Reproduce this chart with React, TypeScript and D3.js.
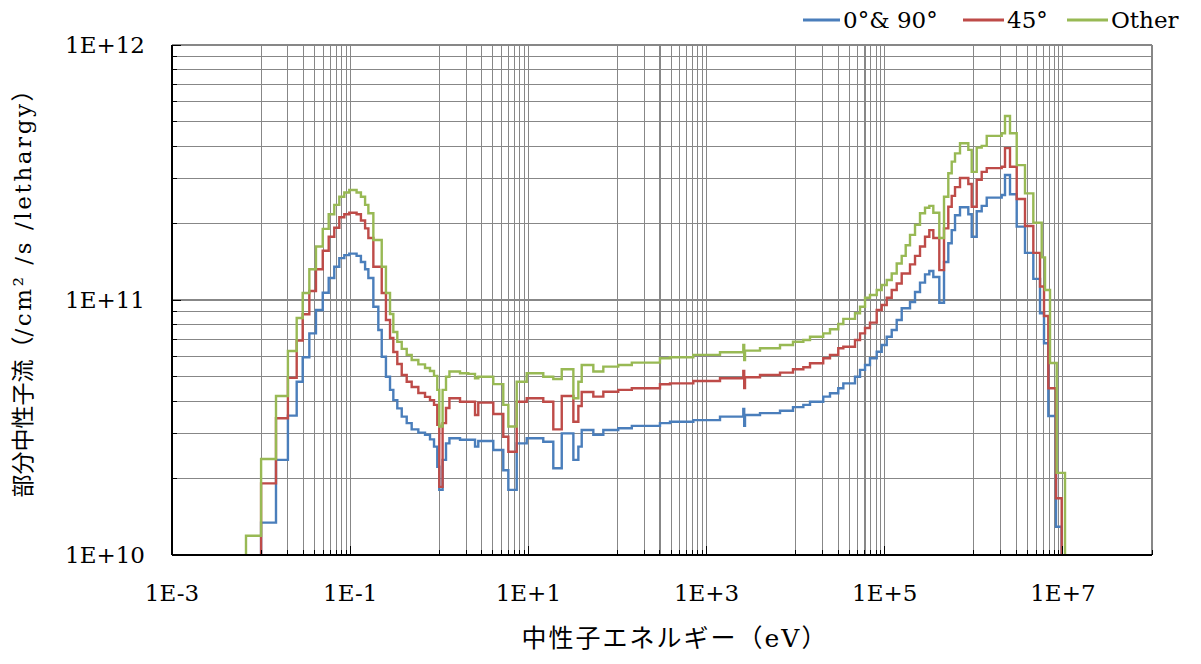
import React from "react";
import * as d3 from "d3";

// Group boundaries (eV), shared by all three spectra
const energyEdges = [
  6.77e-3, 1.0e-2, 1.47e-2, 2.0e-2, 2.51e-2, 2.93e-2, 3.48e-2, 4.13e-2, 4.92e-2, 5.74e-2,
  6.63e-2, 7.55e-2, 8.59e-2, 9.77e-2, 0.118, 0.132, 0.147, 0.16, 0.182, 0.207,
  0.226, 0.252, 0.28, 0.305, 0.338, 0.379, 0.431, 0.49, 0.582, 0.692,
  0.787, 0.873, 0.95, 1.0, 1.09, 1.19, 1.3, 1.71, 2.12, 2.52,
  2.74, 4.04, 5.23, 5.96, 7.4, 9.58, 14.7, 19.05, 23.7, 32.0,
  36.4, 39.7, 53.6, 69.4, 102, 145, 300, 389, 710, 1416,
  2375, 2586, 2647, 2702, 3982, 6677, 9343, 1.22e4, 1.45e4, 2.04e4,
  2.43e4, 3.01e4, 3.43e4, 4.64e4, 5.28e4, 6.01e4, 6.83e4, 8.13e4, 9.25e4, 1.053e5,
  1.198e5, 1.363e5, 1.551e5, 1.72e5, 1.922e5, 2.188e5, 2.489e5, 2.833e5, 3.166e5, 3.511e5,
  4.099e5, 4.629e5, 5.172e5, 5.648e5, 6.152e5, 6.998e5, 8.674e5, 9.469e5, 1.078e6, 1.226e6,
  1.396e6, 2.056e6, 2.239e6, 2.548e6, 3.03e6, 3.754e6, 4.655e6, 5.534e6, 5.781e6, 6.137e6,
  6.298e6, 6.858e6, 7.166e6, 8.367e6, 8.52e6, 9.69e6, 1.056e7,
];

// Flux per unit lethargy (/cm²/s) in each group
const flux0and90 = [
  5e9, 1.34e10, 2.36e10, 3.52e10, 4.78e10, 5.96e10, 7.4e10, 9.14e10, 1.068e11, 1.22e11,
  1.35e11, 1.46e11, 1.5e11, 1.52e11, 1.49e11, 1.41e11, 1.32e11, 1.22e11, 9.41e10, 7.63e10,
  5.99e10, 5.0e10, 4.44e10, 4.05e10, 3.76e10, 3.49e10, 3.29e10, 3.11e10, 3.02e10, 2.96e10,
  2.84e10, 2.66e10, 2.22e10, 1.8e10, 2.36e10, 2.74e10, 2.87e10, 2.83e10, 2.83e10, 2.66e10,
  2.8e10, 2.58e10, 2.15e10, 1.8e10, 2.74e10, 2.87e10, 2.78e10, 2.19e10, 3.0e10, 2.36e10,
  2.66e10, 3.09e10, 2.96e10, 3.09e10, 3.14e10, 3.21e10, 3.29e10, 3.33e10, 3.38e10, 3.49e10,
  3.49e10, 3.74e10, 3.21e10, 3.54e10, 3.6e10, 3.68e10, 3.8e10, 3.88e10, 3.99e10, 4.18e10,
  4.31e10, 4.51e10, 4.71e10, 5.0e10, 5.32e10, 5.56e10, 5.91e10, 6.27e10, 6.66e10, 7.18e10,
  7.63e10, 8.35e10, 9.28e10, 9.28e10, 9.82e10, 1.075e11, 1.17e11, 1.26e11, 1.3e11, 1.23e11,
  9.76e10, 1.41e11, 1.67e11, 1.88e11, 2.15e11, 2.31e11, 2.17e11, 1.77e11, 2.23e11, 2.34e11,
  2.52e11, 2.58e11, 3.09e11, 2.6e11, 1.94e11, 1.53e11, 1.21e11, 8.87e10, 8.87e10, 6.77e10,
  6.77e10, 3.51e10, 3.51e10, 1.29e10, 1.29e10, 5e9,
];

const flux45 = [
  5e9, 1.91e10, 3.44e10, 4.95e10, 6.93e10, 8.79e10, 1.084e11, 1.32e11, 1.56e11, 1.77e11,
  1.92e11, 2.11e11, 2.17e11, 2.2e11, 2.17e11, 2.05e11, 1.91e11, 1.75e11, 1.35e11, 1.35e11,
  1.065e11, 8.35e10, 7.1e10, 6.25e10, 5.61e10, 5.08e10, 4.78e10, 4.56e10, 4.32e10, 4.17e10,
  4.05e10, 3.88e10, 3.24e10, 1.85e10, 3.29e10, 3.77e10, 4.12e10, 3.99e10, 3.99e10, 3.54e10,
  3.96e10, 3.57e10, 2.91e10, 2.54e10, 3.99e10, 4.12e10, 3.99e10, 3.11e10, 4.2e10, 3.33e10,
  3.84e10, 4.36e10, 4.18e10, 4.37e10, 4.44e10, 4.51e10, 4.67e10, 4.71e10, 4.81e10, 4.93e10,
  4.93e10, 5.27e10, 4.52e10, 4.98e10, 5.08e10, 5.19e10, 5.35e10, 5.45e10, 5.65e10, 5.91e10,
  6.09e10, 6.47e10, 6.56e10, 6.97e10, 7.4e10, 7.77e10, 8.15e10, 9.14e10, 9.56e10, 1.02e11,
  1.094e11, 1.16e11, 1.27e11, 1.27e11, 1.38e11, 1.49e11, 1.62e11, 1.77e11, 1.88e11, 1.75e11,
  1.31e11, 1.91e11, 2.32e11, 2.56e11, 2.77e11, 3.01e11, 2.85e11, 2.32e11, 2.96e11, 3.18e11,
  3.29e11, 3.33e11, 3.94e11, 3.33e11, 2.49e11, 1.95e11, 1.53e11, 1.13e11, 1.13e11, 8.66e10,
  8.66e10, 4.51e10, 4.51e10, 1.67e10, 1.67e10, 5e9,
];

const fluxOther = [
  1.19e10, 2.38e10, 4.2e10, 6.31e10, 8.5e10, 1.065e11, 1.32e11, 1.62e11, 1.9e11, 2.17e11,
  2.36e11, 2.54e11, 2.64e11, 2.7e11, 2.64e11, 2.54e11, 2.36e11, 2.19e11, 1.72e11, 1.72e11,
  1.35e11, 1.065e11, 8.81e10, 7.49e10, 6.85e10, 6.43e10, 6.09e10, 5.82e10, 5.59e10, 5.41e10,
  5.27e10, 5.04e10, 4.44e10, 3.19e10, 4.44e10, 5.0e10, 5.24e10, 5.16e10, 5.13e10, 4.93e10,
  5.0e10, 4.68e10, 3.88e10, 3.19e10, 4.78e10, 5.16e10, 5.0e10, 4.9e10, 5.35e10, 4.12e10,
  4.78e10, 5.56e10, 5.24e10, 5.48e10, 5.56e10, 5.68e10, 5.91e10, 5.96e10, 6.09e10, 6.24e10,
  6.24e10, 6.66e10, 5.82e10, 6.33e10, 6.47e10, 6.66e10, 6.86e10, 6.97e10, 7.18e10, 7.4e10,
  7.68e10, 8.05e10, 8.43e10, 8.87e10, 9.41e10, 1.02e11, 1.046e11, 1.094e11, 1.145e11, 1.198e11,
  1.27e11, 1.39e11, 1.49e11, 1.64e11, 1.8e11, 1.97e11, 2.19e11, 2.3e11, 2.34e11, 2.2e11,
  1.75e11, 2.54e11, 3.14e11, 3.49e11, 3.76e11, 4.12e11, 3.88e11, 3.18e11, 3.96e11, 4.02e11,
  4.4e11, 4.51e11, 5.27e11, 4.51e11, 3.38e11, 2.62e11, 2.01e11, 2.01e11, 1.47e11, 1.47e11,
  1.094e11, 1.094e11, 5.66e10, 5.66e10, 2.1e10, 2.1e10,
];

const seriesLabels = ["0°& 90°", "45°", "Other"];
const seriesColors = ["#4A7EBB", "#BE4B48", "#98B954"];

const xTickValues = [1e-3, 1e-1, 1e1, 1e3, 1e5, 1e7];
const xTickLabels = ["1E-3", "1E-1", "1E+1", "1E+3", "1E+5", "1E+7"];
const yTickValues = [1e10, 1e11, 1e12];
const yTickLabels = ["1E+10", "1E+11", "1E+12"];

const xTitle = "中性子エネルギー（eV）";
const yTitleMain = "部分中性子流（";
const yTitleUnit = "/cm² /s /lethargy";
const yTitleClose = "）";

const WIDTH = 1201;
const HEIGHT = 664;
const PLOT = { left: 172, right: 1152, top: 45, bottom: 555 };
const FONT = "'DejaVu Serif', 'Noto Sans CJK JP', serif";

export default function App() {
  const x = d3.scaleLog().domain([1e-3, 1e8]).range([PLOT.left, PLOT.right]);
  const y = d3.scaleLog().domain([1e10, 1e12]).range([PLOT.bottom, PLOT.top]);
  const [yMin] = y.domain();

  // Minor verticals: the decade after each labelled tick (base-100 axis)
  const xMinor: number[] = [];
  [-2, 0, 2, 4, 6].forEach((e) => {
    for (let k = 1; k <= 9; k++) xMinor.push(k * Math.pow(10, e));
  });
  xMinor.push(1e8);

  const yMinor: number[] = [];
  [10, 11].forEach((e) => {
    for (let k = 2; k <= 9; k++) yMinor.push(k * Math.pow(10, e));
  });

  const stepPath = (values: number[]) => {
    let p = `M${x(energyEdges[0])},${y(yMin)}`;
    values.forEach((v, i) => {
      p += `V${y(v)}H${x(energyEdges[i + 1])}`;
    });
    p += `V${y(yMin)}`;
    return p;
  };

  const series = [flux0and90, flux45, fluxOther];

  const legendX = [803, 963, 1067];
  const legendLine = [37, 41, 41];

  return (
    <svg
      width={WIDTH}
      height={HEIGHT}
      style={{ position: "absolute", left: 0, top: 0, background: "#fff" }}
      fontFamily={FONT}
    >
      <rect x={0} y={0} width={WIDTH} height={HEIGHT} fill="#fff" />
      <defs>
        <clipPath id="plot-clip">
          <rect
            x={PLOT.left}
            y={PLOT.top - 2}
            width={PLOT.right - PLOT.left}
            height={PLOT.bottom - PLOT.top + 2}
          />
        </clipPath>
      </defs>

      {/* grid */}
      <g stroke="#878787" strokeWidth={1.1} shapeRendering="crispEdges">
        {yMinor.map((v) => (
          <line key={`ym${v}`} x1={PLOT.left} x2={PLOT.right} y1={y(v)} y2={y(v)} />
        ))}
        {yTickValues.map((v) => (
          <line key={`yM${v}`} x1={PLOT.left} x2={PLOT.right} y1={y(v)} y2={y(v)} />
        ))}
        {xMinor.map((v) => (
          <line key={`xm${v}`} x1={x(v)} x2={x(v)} y1={PLOT.top} y2={PLOT.bottom} />
        ))}
        {xTickValues.map((v) => (
          <line key={`xM${v}`} x1={x(v)} x2={x(v)} y1={PLOT.top} y2={PLOT.bottom} />
        ))}
      </g>

      {/* spectra */}
      <g clipPath="url(#plot-clip)" fill="none" strokeWidth={2.4} strokeLinejoin="miter">
        {series.map((vals, i) => (
          <path key={seriesLabels[i]} d={stepPath(vals)} stroke={seriesColors[i]} />
        ))}
      </g>

      {/* axes */}
      <g stroke="#000" shapeRendering="crispEdges">
        <line x1={PLOT.left} x2={PLOT.left} y1={PLOT.top} y2={PLOT.bottom} strokeWidth={1.5} />
        <line x1={PLOT.left} x2={PLOT.right} y1={PLOT.bottom} y2={PLOT.bottom} strokeWidth={1.5} />
        {yMinor.map((v) => (
          <line key={`ytm${v}`} x1={PLOT.left} x2={PLOT.left + 5} y1={y(v)} y2={y(v)} />
        ))}
        {yTickValues.map((v) => (
          <line key={`ytM${v}`} x1={PLOT.left} x2={PLOT.left + 9} y1={y(v)} y2={y(v)} />
        ))}
        {xMinor.map((v) => (
          <line key={`xtm${v}`} x1={x(v)} x2={x(v)} y1={PLOT.bottom} y2={PLOT.bottom - 5} />
        ))}
        {xTickValues.map((v) => (
          <line key={`xtM${v}`} x1={x(v)} x2={x(v)} y1={PLOT.bottom} y2={PLOT.bottom - 9} />
        ))}
      </g>

      {/* tick labels */}
      <g fontSize={23} fill="#000">
        {xTickValues.map((v, i) => (
          <text key={`xl${v}`} x={x(v)} y={PLOT.bottom + 46} textAnchor="middle">
            {xTickLabels[i]}
          </text>
        ))}
        {yTickValues.map((v, i) => (
          <text key={`yl${v}`} x={PLOT.left - 27} y={y(v) + 8} textAnchor="end">
            {yTickLabels[i]}
          </text>
        ))}
      </g>

      {/* axis titles */}
      <text x={675} y={647} textAnchor="middle" fontSize={25} letterSpacing={2} fill="#000">
        {xTitle}
      </text>
      <text
        transform={`translate(31, ${(PLOT.top + PLOT.bottom) / 2 - 12}) rotate(-90)`}
        textAnchor="middle"
        fontSize={23}
        fill="#000"
      >
        <tspan>{yTitleMain}</tspan>
        <tspan letterSpacing={2.6}>{yTitleUnit}</tspan>
        <tspan>{yTitleClose}</tspan>
      </text>

      {/* legend */}
      <g fontSize={23} fill="#000">
        {seriesLabels.map((label, i) => (
          <g key={label}>
            <line
              x1={legendX[i]}
              x2={legendX[i] + legendLine[i]}
              y1={20}
              y2={20}
              stroke={seriesColors[i]}
              strokeWidth={3}
            />
            <text x={legendX[i] + legendLine[i] + 3} y={28}>
              {label}
            </text>
          </g>
        ))}
      </g>
    </svg>
  );
}
